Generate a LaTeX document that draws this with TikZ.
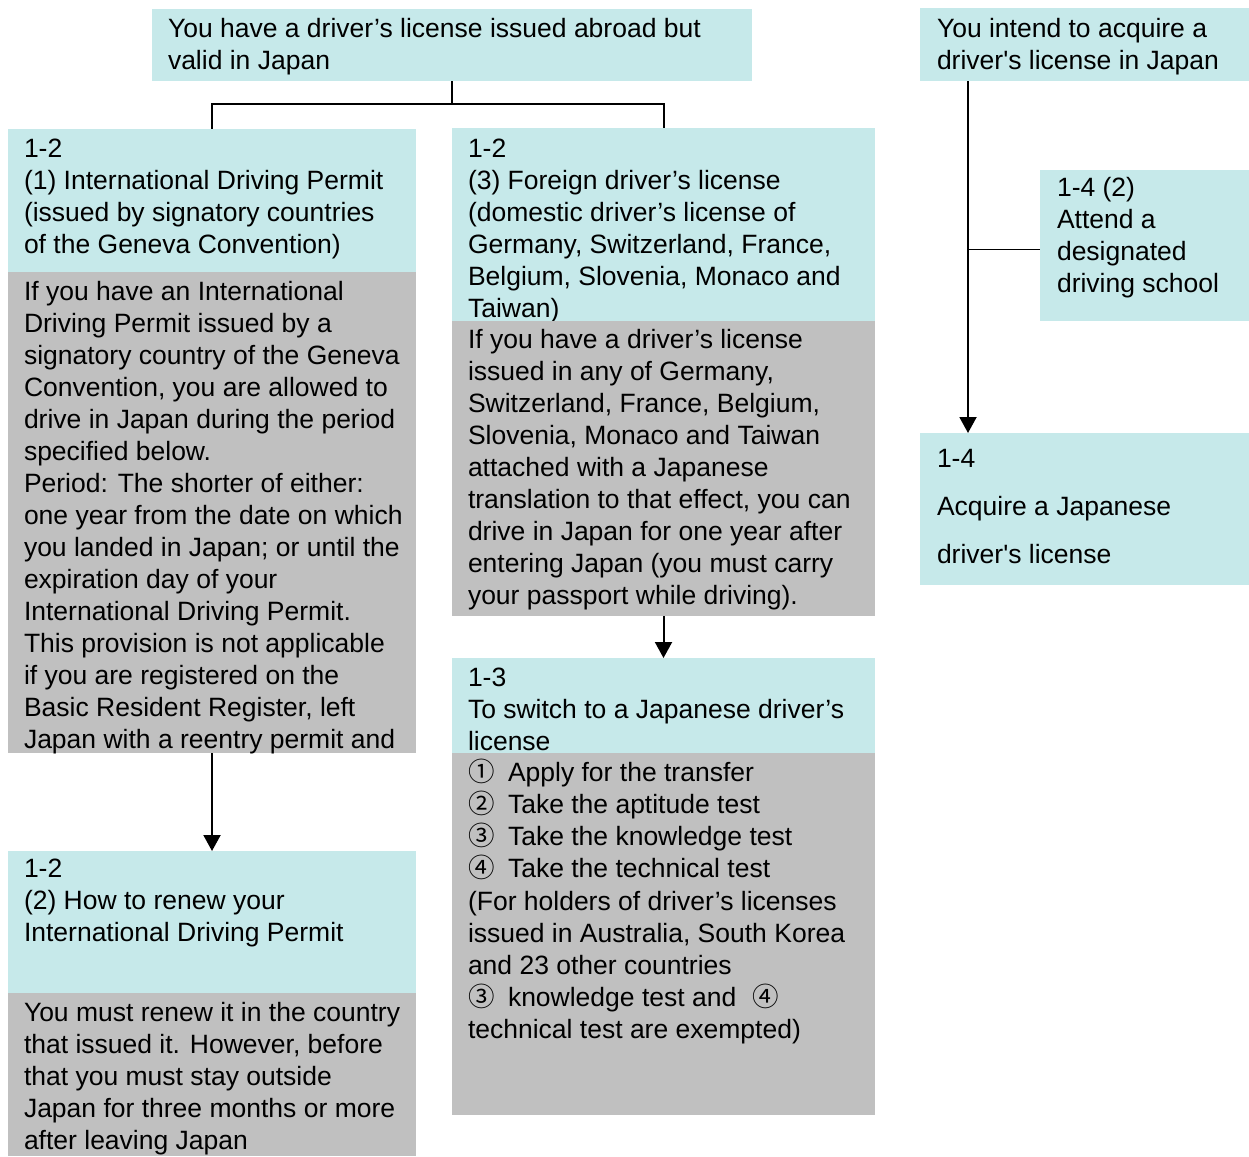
\documentclass[tikz,border=0pt]{standalone}
\usepackage{fontspec}
\setmainfont{Liberation Sans}[Ligatures=TeXOff]
\newfontfamily\cjk{Noto Sans CJK JP}
\usetikzlibrary{arrows.meta}
\definecolor{cy}{RGB}{198,233,234}
\definecolor{gr}{RGB}{192,192,192}
\newcommand{\circnum}[1]{\makebox[40pt][l]{\cjk #1}}
\tikzset{
  cbox/.style={fill=cy,draw=none,inner sep=0pt,outer sep=0pt,anchor=north west},
  gbox/.style={fill=gr,draw=none,inner sep=0pt,outer sep=0pt,anchor=north west},
  txt/.style={inner sep=0pt,outer sep=0pt,anchor=base west,font=\fontsize{26.5}{32}\selectfont},
  conn/.style={line width=2pt,black},
  thinconn/.style={line width=1.5pt,black},
  arr/.style={conn,-{Triangle[width=17pt,length=16pt]}},
}
\begin{document}
\begin{tikzpicture}[x=1pt,y=-1pt]
\useasboundingbox (0,0) rectangle (1249,1156);

% top-left source box
\node[cbox,minimum width=600pt,minimum height=72pt] (T) at (152,9) {};
\node[txt] (Tt) at (168,37.5) {\parbox[t]{600pt}{You have a driver’s license issued abroad but\\valid in Japan}};

% box A
\node[cbox,minimum width=408pt,minimum height=143pt] (A) at (8,129) {};
\node[txt] (At) at (24,157) {\parbox[t]{420pt}{1-2\\(1) International Driving Permit\\(issued by signatory countries\\of the Geneva Convention)}};
\node[gbox,minimum width=408pt,minimum height=481pt] (Ag) at (8,272) {};
\begin{scope}
\clip (8,272) rectangle (416,753);
\node[txt] (Agt) at (24,300.5) {\parbox[t]{420pt}{If you have an International\\Driving Permit issued by a\\signatory country of the Geneva\\Convention, you are allowed to\\drive in Japan during the period\\specified below.\\Period: The shorter of either:\\one year from the date on which\\you landed in Japan; or until the\\expiration day of your\\International Driving Permit.\\This provision is not applicable\\if you are registered on the\\Basic Resident Register, left\\Japan with a reentry permit and}};
\end{scope}

% box B
\node[cbox,minimum width=423pt,minimum height=193pt] (B) at (452,128) {};
\node[txt] (Bt) at (468,157) {\parbox[t]{420pt}{1-2\\(3) Foreign driver’s license\\(domestic driver’s license of\\Germany, Switzerland, France,\\Belgium, Slovenia, Monaco and\\Taiwan)}};
\node[gbox,minimum width=423pt,minimum height=295pt] (Bg) at (452,321) {};
\node[txt] (Bgt) at (468,348.5) {\parbox[t]{420pt}{If you have a driver’s license\\issued in any of Germany,\\Switzerland, France, Belgium,\\Slovenia, Monaco and Taiwan\\attached with a Japanese\\translation to that effect, you can\\drive in Japan for one year after\\entering Japan (you must carry\\your passport while driving).}};

% box C
\node[cbox,minimum width=423pt,minimum height=95pt] (C) at (452,658) {};
\node[txt] (Ct) at (468,686) {\parbox[t]{420pt}{1-3\\To switch to a Japanese driver’s\\license}};
\node[gbox,minimum width=423pt,minimum height=362pt] (Cg) at (452,753) {};
\node[txt] (Cgt) at (468,781) {\parbox[t]{420pt}{\circnum{①}Apply for the transfer\\\circnum{②}Take the aptitude test\\\circnum{③}Take the knowledge test\\\circnum{④}Take the technical test\\[1pt](For holders of driver’s licenses\\issued in Australia, South Korea\\and 23 other countries\\\circnum{③}knowledge test and \hspace{9pt}{\cjk ④}\\technical test are exempted)}};

% box D
\node[cbox,minimum width=408pt,minimum height=142pt] (D) at (8,851) {};
\node[txt] (Dt) at (24,877.5) {\parbox[t]{420pt}{1-2\\(2) How to renew your\\International Driving Permit}};
\node[gbox,minimum width=408pt,minimum height=163pt] (Dg) at (8,993) {};
\node[txt] (Dgt) at (24,1021.5) {\parbox[t]{420pt}{You must renew it in the country\\that issued it. However, before\\that you must stay outside\\Japan for three months or more\\after leaving Japan}};

% right column
\node[cbox,minimum width=329pt,minimum height=73pt] (R) at (920,8) {};
\node[txt] (Rt) at (937,37.5) {\parbox[t]{330pt}{You intend to acquire a\\driver's license in Japan}};
\node[cbox,minimum width=209pt,minimum height=151pt] (S) at (1040,170) {};
\node[txt] (St) at (1057,196) {\parbox[t]{200pt}{1-4 (2)\\Attend a\\designated\\driving school}};
\node[cbox,minimum width=329pt,minimum height=152pt] (F) at (920,433) {};
\node[txt] (Ft) at (937,467.5) {\parbox[t]{330pt}{1-4\\[16pt]Acquire a Japanese\\[16pt]driver's license}};

% connectors
\draw[conn] (T.south) -- ++(0,23) coordinate (j);
\draw[conn] (j) -| (A.north);
\draw[conn] (j) -| (B.north);
\draw[arr] (Bg.south) -- (C.north);
\draw[arr] (Ag.south) -- (D.north);
\coordinate (rs) at ([xshift=48pt]R.south west);
\coordinate (sw) at ([yshift=-4pt]S.west);
\draw[arr] (rs) -- ([xshift=48pt]F.north west);
\draw[thinconn] (rs |- sw) -- (sw);
\end{tikzpicture}
\end{document}
